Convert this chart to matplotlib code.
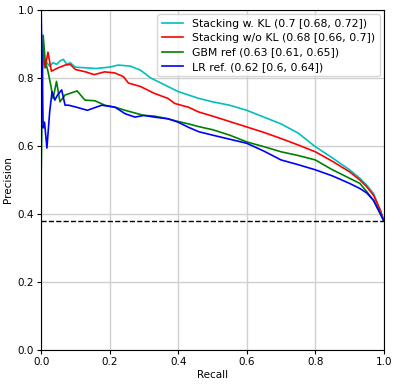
import numpy as np
import matplotlib
matplotlib.use("Agg")
import matplotlib.pyplot as plt

# precision-recall curves
rec_kl = [0.0, 0.0, 0.005, 0.01, 0.017, 0.025, 0.035, 0.045, 0.055, 0.065, 0.075, 0.085, 0.1, 0.13, 0.16, 0.2, 0.225,
          0.26, 0.29, 0.32, 0.35, 0.4, 0.43, 0.46, 0.5, 0.55, 0.6, 0.65, 0.7, 0.75, 0.8, 0.85, 0.9, 0.93, 0.95, 0.97, 0.99, 1.0]
prec_kl = [0.0, 0.8, 0.86, 0.83, 0.845, 0.835, 0.845, 0.84, 0.85, 0.855, 0.84, 0.845, 0.832, 0.83, 0.828, 0.832, 0.838,
           0.835, 0.823, 0.8, 0.785, 0.76, 0.75, 0.74, 0.73, 0.72, 0.705, 0.685, 0.665, 0.638, 0.598, 0.565, 0.53, 0.505, 0.485, 0.46, 0.41, 0.38]

rec_nokl = [0.0, 0.0, 0.006, 0.012, 0.02, 0.03, 0.04, 0.05, 0.07, 0.085, 0.1, 0.13, 0.155, 0.185, 0.215, 0.24, 0.255,
            0.29, 0.33, 0.37, 0.39, 0.43, 0.46, 0.5, 0.55, 0.6, 0.65, 0.7, 0.75, 0.8, 0.85, 0.9, 0.93, 0.95, 0.97, 0.99, 1.0]
prec_nokl = [0.0, 0.82, 0.87, 0.83, 0.876, 0.82, 0.825, 0.83, 0.838, 0.84, 0.825, 0.818, 0.81, 0.818, 0.815, 0.804, 0.785,
             0.775, 0.755, 0.74, 0.725, 0.714, 0.70, 0.688, 0.672, 0.656, 0.64, 0.622, 0.603, 0.583, 0.555, 0.524, 0.5, 0.48, 0.455, 0.41, 0.38]

rec_gbm = [0.0, 0.0, 0.006, 0.012, 0.02, 0.028, 0.035, 0.045, 0.055, 0.07, 0.085, 0.105, 0.128, 0.157, 0.186, 0.216, 0.245,
           0.274, 0.3, 0.33, 0.37, 0.4, 0.43, 0.46, 0.5, 0.55, 0.6, 0.65, 0.7, 0.75, 0.8, 0.85, 0.9, 0.93, 0.95, 0.97, 0.99, 1.0]
prec_gbm = [0.0, 0.5, 0.926, 0.85, 0.82, 0.78, 0.74, 0.79, 0.73, 0.75, 0.755, 0.762, 0.735, 0.733, 0.72, 0.714, 0.705,
            0.697, 0.69, 0.688, 0.68, 0.672, 0.665, 0.657, 0.648, 0.632, 0.612, 0.598, 0.583, 0.572, 0.559, 0.53, 0.505, 0.49, 0.466, 0.44, 0.4, 0.38]

rec_lr = [0.0, 0.006, 0.01, 0.017, 0.025, 0.032, 0.04, 0.048, 0.06, 0.07, 0.08, 0.1, 0.135, 0.177, 0.216, 0.245,
          0.274, 0.3, 0.33, 0.37, 0.4, 0.43, 0.46, 0.5, 0.55, 0.6, 0.65, 0.7, 0.75, 0.8, 0.85, 0.9, 0.93, 0.95, 0.97, 0.99, 1.0]
prec_lr = [1.0, 0.653, 0.67, 0.594, 0.7, 0.76, 0.735, 0.75, 0.765, 0.72, 0.72, 0.715, 0.705, 0.72, 0.714, 0.695,
           0.685, 0.69, 0.685, 0.68, 0.67, 0.655, 0.642, 0.632, 0.62, 0.608, 0.585, 0.559, 0.545, 0.53, 0.512, 0.49, 0.475, 0.462, 0.44, 0.4, 0.38]

baseline = 0.38

labels = ['Stacking w. KL (0.7 [0.68, 0.72])',
          'Stacking w/o KL (0.68 [0.66, 0.7])',
          'GBM ref (0.63 [0.61, 0.65])',
          'LR ref. (0.62 [0.6, 0.64])']

fig = plt.figure(figsize=(3.99, 3.85), dpi=100)
ax = fig.add_axes([0.103, 0.091, 0.859, 0.883])

ax.plot(rec_kl, prec_kl, color='c', lw=1.2, label=labels[0])
ax.plot(rec_nokl, prec_nokl, color='r', lw=1.2, label=labels[1])
ax.plot(rec_gbm, prec_gbm, color='g', lw=1.2, label=labels[2])
ax.plot(rec_lr, prec_lr, color='b', lw=1.2, label=labels[3])
ax.axhline(baseline, color='k', ls='--', lw=1)

ax.set_xlim(0, 1)
ax.set_ylim(0, 1)
ax.set_xlabel('Recall', fontsize=7.5, labelpad=2)
ax.set_ylabel('Precision', fontsize=7.5, labelpad=3)
ax.tick_params(labelsize=7.5, length=3, pad=2)
ax.grid(True, color='#d0d0d0', lw=1)
ax.legend(loc='upper right', fontsize=7.8, handlelength=2.0, borderaxespad=0.4,
          labelspacing=0.4)

fig.savefig('out.png', dpi=100)
